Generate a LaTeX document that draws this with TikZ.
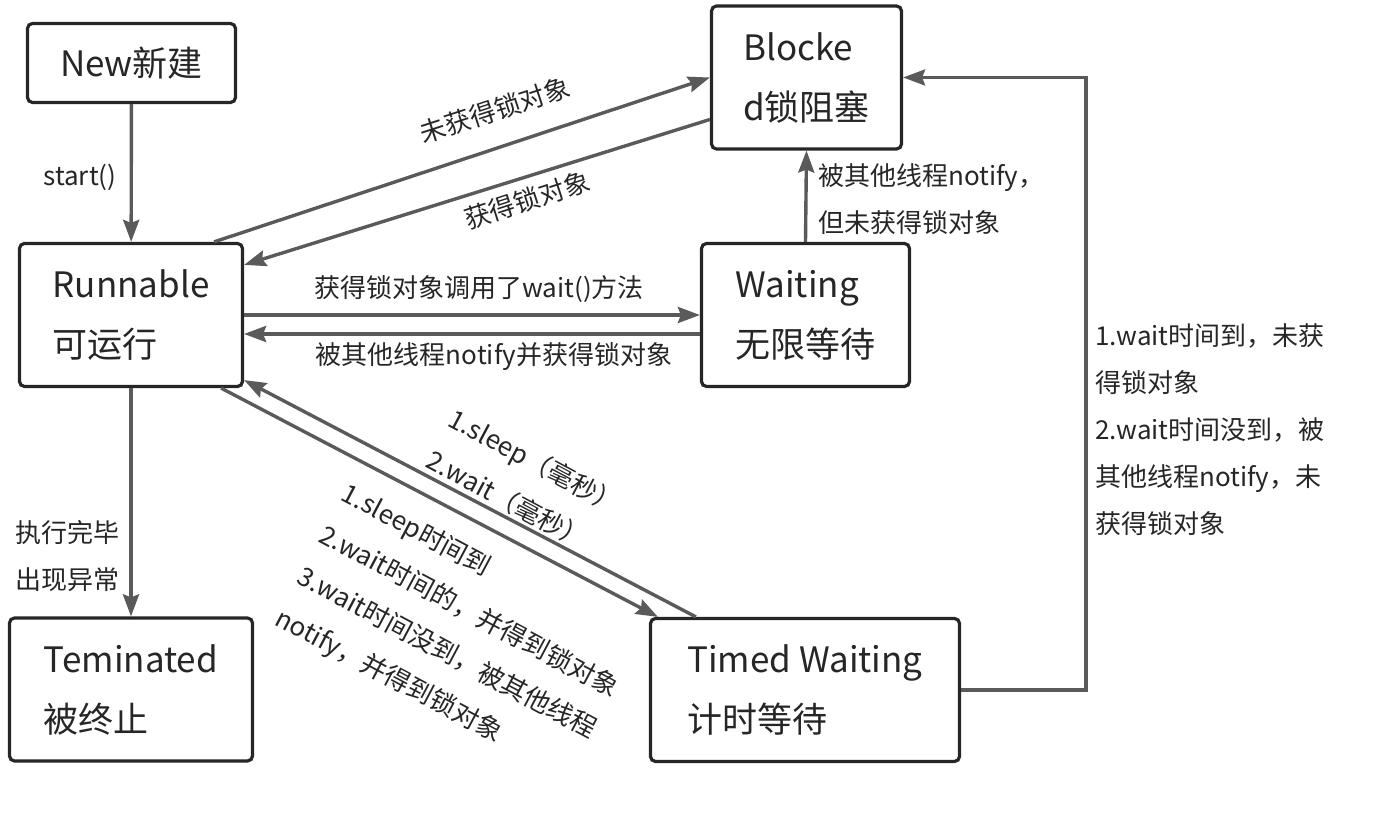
\documentclass[tikz,border=0pt]{standalone}
\usepackage{fontspec}
\setmainfont{Noto Sans CJK SC}
\usetikzlibrary{arrows.meta}
\definecolor{linegray}{HTML}{5A5A5A}
\definecolor{boxdark}{HTML}{262626}
\begin{document}
\begin{tikzpicture}[x=0.5pt,y=-0.5pt,
  state/.style={draw=boxdark, line width=1.6pt, rounded corners=2.5pt, align=left, inner sep=0pt,
    text=boxdark, font=\fontsize{17.5}{30}\selectfont, minimum height=71.5pt},
  arr/.style={draw=linegray, line width=1.7pt, -{Stealth[length=11pt,width=8pt,inset=1.5pt]}},
  lbl/.style={inner sep=0pt, align=left, text=boxdark, font=\fontsize{13}{23.5}\selectfont}]
\useasboundingbox (0,0) rectangle (1373,833);

% states
\node[state, minimum width=104pt, minimum height=39.5pt] (new) at (131.5,63) {New新建};
\node[state, minimum width=95pt] (blk) at (806.5,77.5) {Blocke\\d锁阻塞};
\node[state, minimum width=111.5pt] (run) at (131,315) {Runnable\\可运行};
\node[state, minimum width=104pt] (wait) at (805.5,315) {Waiting\\无限等待};
\node[state, minimum width=121.5pt] (term) at (131,689.5) {Teminated\\被终止};
\node[state, minimum width=154.5pt] (tw) at (805,690) {Timed Waiting\\计时等待};

% transitions
\path[arr] (new) -- (run);
\path[arr] ([xshift=-15pt]run.north east) -- (blk.west);
\path[arr] ([yshift=-21pt]blk.west) -- ([yshift=-11.5pt]run.north east);
\path[arr] (run.east) -- (wait.west);
\path[arr] ([yshift=-9.5pt]wait.west) -- ([yshift=-9.5pt]run.east);
\path[arr] (wait.north) -- (blk.south);
\path[arr] (run) -- (term);
\path[arr] ([xshift=23.5pt]tw.north west) -- ([yshift=4pt]run.south east);
\path[arr] ([xshift=-11.5pt]run.south east) -- ([xshift=4.5pt]tw.north west);
\path[arr] (tw.east) -- ++(125,0) |- (blk.east);

% labels
\node[lbl] (startlab) at (80,177) {start()};
\node[lbl, rotate=18] (nolocklab) at (495,110) {未获得锁对象};
\node[lbl, rotate=18] (locklab) at (527,200) {获得锁对象};
\node[lbl] (waitlab) at (479,289) {获得锁对象调用了wait()方法};
\node[lbl] (notifylab) at (494,357) {被其他线程notify并获得锁对象};
\node[lbl, anchor=north west] (blklab) at (818,163) {被其他线程notify，\\但未获得锁对象};
\node[lbl, anchor=north west] (endlab) at (15,520) {执行完毕\\出现异常};
\node[lbl, anchor=north west, rotate=-28] (sleeplab) at (457,405) {1.sleep（毫秒）\\2.wait（毫秒）};
\node[lbl, anchor=north west, rotate=-28] (backlab) at (350,480) {1.sleep时间到\\2.wait时间的，并得到锁对象\\3.wait时间没到，被其他线程\\notify，并得到锁对象};
\node[lbl, anchor=north west] (tolab) at (1095,323) {1.wait时间到，未获\\得锁对象\\2.wait时间没到，被\\其他线程notify，未\\获得锁对象};
\end{tikzpicture}
\end{document}
